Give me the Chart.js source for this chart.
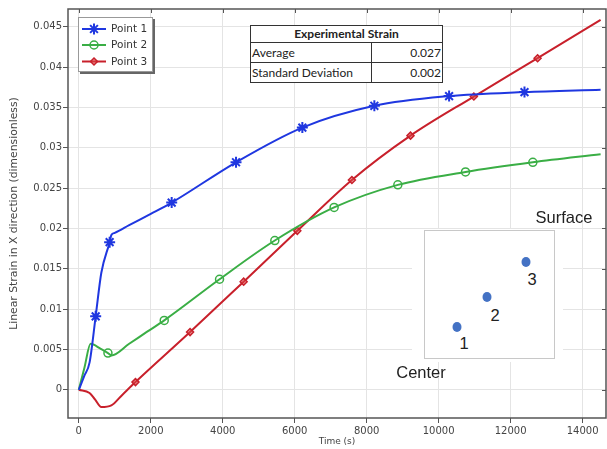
<!DOCTYPE html>
<html>
<head>
<meta charset="utf-8">
<title>Linear strain vs time</title>
<script src="https://cdn.jsdelivr.net/npm/chart.js@4.4.1/dist/chart.umd.min.js"></script>
<style>
    body { margin: 0; background: #fff; }
    #wrap { position: relative; width: 607px; height: 449px; overflow: hidden; }
    #strainChart { position: absolute; left: 0; top: 0; }

    #strainTable {
        position: absolute; left: 250px; top: 25px; width: 193px;
        border-collapse: collapse; background: #fff;
        font-family: Lato, "Open Sans", sans-serif; font-size: 12px; color: #222;
    }
    #strainTable td { border: 1px solid #333; padding: 0 1px; line-height: 1; }
    #strainTable .head { text-align: center; font-weight: bold; height: 16px; }
    #strainTable .row td { height: 19px; }
    #strainTable .num { text-align: right; width: 68px; }

    #probeBack { position: absolute; left: 412px; top: 229px; width: 151px; height: 133px; background: #fff; }
    #probeBox { position: absolute; left: 424px; top: 230px; width: 129px; height: 127px; border: 1px solid #c8c8c8; background: #fff; }
    .probe { position: absolute; width: 9px; height: 10px; border-radius: 50%; background: #4472c4; transform: translate(-50%, -50%); }
    .probeText {
        position: absolute; transform: translate(-50%, -50%); white-space: nowrap;
        font-family: "Liberation Sans", Arial, sans-serif; font-size: 16.5px; color: #222;
    }
</style>
</head>
<body>
<div id="wrap">
    <canvas id="strainChart" width="607" height="449"></canvas>

    <table id="strainTable">
        <tr><td class="head" colspan="2">Experimental Strain</td></tr>
        <tr class="row"><td>Average</td><td class="num">0.027</td></tr>
        <tr class="row"><td>Standard Deviation</td><td class="num">0.002</td></tr>
    </table>

    <div id="probeBack"></div>
    <div id="probeBox"></div>
    <div class="probe" style="left:457px; top:327px;"></div>
    <div class="probe" style="left:487px; top:297px;"></div>
    <div class="probe" style="left:526px; top:262px;"></div>
    <span class="probeText" style="left:464px; top:343px;">1</span>
    <span class="probeText" style="left:495px; top:315px;">2</span>
    <span class="probeText" style="left:532px; top:279px;">3</span>
    <span class="probeText" style="left:564px; top:217px;">Surface</span>
    <span class="probeText" style="left:421px; top:372px;">Center</span>
</div>

<script>
// strain histories at the three probe points (time in s, strain dimensionless)
var p1Time   = [0, 150, 300, 469, 626, 857, 905, 1000, 1400, 2000, 2581, 4369, 6212, 8213, 10290, 12385, 14500];
var p1Strain = [0, 0.0017, 0.0034, 0.0091, 0.0145, 0.0183, 0.0192, 0.01945, 0.0204, 0.0218, 0.0232, 0.0282, 0.0325, 0.0352, 0.0364, 0.0369, 0.0372];
var p1Marks  = [3, 5, 10, 11, 12, 13, 14, 15];

var p2Time   = [0, 160, 327, 600, 810, 905, 1400, 1900, 2374, 3911, 5447, 7095, 8866, 10746, 12617, 14500];
var p2Strain = [0, 0.0028, 0.0057, 0.0051, 0.00455, 0.00425, 0.0057, 0.0072, 0.0086, 0.0137, 0.0185, 0.0226, 0.0254, 0.0270, 0.0282, 0.0292];
var p2Marks  = [4, 8, 9, 10, 11, 12, 13, 14];

var p3Time   = [0, 299, 450, 626, 905, 1200, 1575, 3092, 4581, 6072, 7589, 9218, 10978, 12749, 14500];
var p3Strain = [0, -0.0004, -0.0012, -0.00215, -0.00194, -0.00067, 0.00095, 0.00715, 0.0134, 0.0197, 0.0260, 0.0315, 0.03635, 0.0411, 0.04585];
var p3Marks  = [6, 7, 8, 9, 10, 11, 12, 13];

var seriesNames = ['Point 1', 'Point 2', 'Point 3'];
var timeTicks   = [0, 2000, 4000, 6000, 8000, 10000, 12000, 14000];
var strainTicks = [0, 0.005, 0.01, 0.015, 0.02, 0.025, 0.03, 0.035, 0.04, 0.045];

var blue = '#1f37e0', green = '#3aae45', red = '#c8202b';
var axisColor = '#555', gridColor = '#e4e4e4', textColor = '#444';

function toPoints(xs, ys) {
    return xs.map(function (x, i) { return {x: x, y: ys[i]}; });
}

function markerRadius(marks, r) {
    return function (ctx) { return marks.indexOf(ctx.dataIndex) >= 0 ? r : 0; };
}

function makeSeries(name, xs, ys, marks, color, style, radius, fill) {
    return {
        label: name,
        data: toPoints(xs, ys),
        borderColor: color,
        borderWidth: 2,
        cubicInterpolationMode: 'monotone',
        pointStyle: style,
        markerSize: radius,
        pointRadius: markerRadius(marks, radius),
        pointHoverRadius: 0,
        pointBorderColor: color,
        pointBorderWidth: style === 'star' ? 2 : 1.5,
        pointBackgroundColor: fill
    };
}

var datasets = [
    makeSeries(seriesNames[0], p1Time, p1Strain, p1Marks, blue, 'star', 5.5, blue),
    makeSeries(seriesNames[1], p2Time, p2Strain, p2Marks, green, 'circle', 4, 'rgba(0,0,0,0)'),
    makeSeries(seriesNames[2], p3Time, p3Strain, p3Marks, red, 'rectRot', 3.5, 'rgba(220,70,70,0.55)')
];

// box around the plot with inward ticks on top and right
var framePlugin = {
    id: 'frame',
    afterDatasetsDraw: function (chart) {
        var ctx = chart.ctx, a = chart.chartArea;
        var xs = chart.scales.x, ys = chart.scales.y;
        ctx.save();
        ctx.strokeStyle = axisColor;
        ctx.lineWidth = 1.5;
        ctx.strokeRect(a.left, a.top, a.right - a.left, a.bottom - a.top);
        ctx.lineWidth = 1;
        ctx.beginPath();
        timeTicks.forEach(function (t) {
            var px = Math.round(xs.getPixelForValue(t)) + 0.5;
            ctx.moveTo(px, a.top); ctx.lineTo(px, a.top + 4);
        });
        strainTicks.forEach(function (v) {
            var py = Math.round(ys.getPixelForValue(v)) + 0.5;
            ctx.moveTo(a.right, py); ctx.lineTo(a.right - 4, py);
        });
        ctx.stroke();
        ctx.restore();
    }
};

// legend with line + marker samples, drawn in the top-left corner
var legendPlugin = {
    id: 'lineLegend',
    afterDraw: function (chart) {
        var ctx = chart.ctx;
        var bx = 78, by = 17, bw = 75, bh = 55;
        ctx.save();
        ctx.fillStyle = '#666';
        ctx.fillRect(bx + 2, by + 2, bw, bh);
        ctx.fillStyle = '#fff';
        ctx.fillRect(bx, by, bw, bh);
        ctx.strokeStyle = '#999';
        ctx.lineWidth = 1;
        ctx.strokeRect(bx + 0.5, by + 0.5, bw - 1, bh - 1);

        var rows = [29, 45, 61.5];
        chart.data.datasets.forEach(function (ds, i) {
            var y = rows[i], cx = 94, r = ds.markerSize;
            ctx.strokeStyle = ds.borderColor;
            ctx.lineWidth = 2;
            ctx.beginPath();
            ctx.moveTo(82, y); ctx.lineTo(106, y);
            ctx.stroke();

            ctx.fillStyle = ds.pointBackgroundColor;
            ctx.strokeStyle = ds.pointBorderColor;
            ctx.lineWidth = ds.pointBorderWidth;
            ctx.beginPath();
            if (ds.pointStyle === 'circle') {
                ctx.arc(cx, y, r, 0, Math.PI * 2);
            } else if (ds.pointStyle === 'rectRot') {
                ctx.moveTo(cx, y - r); ctx.lineTo(cx + r, y); ctx.lineTo(cx, y + r); ctx.lineTo(cx - r, y); ctx.closePath();
            } else {
                for (var k = 0; k < 4; k++) {
                    var ang = k * Math.PI / 4;
                    ctx.moveTo(cx - r * Math.cos(ang), y - r * Math.sin(ang));
                    ctx.lineTo(cx + r * Math.cos(ang), y + r * Math.sin(ang));
                }
            }
            ctx.fill();
            ctx.stroke();

            ctx.fillStyle = '#333';
            ctx.font = '10.5px "DejaVu Sans"';
            ctx.textBaseline = 'middle';
            ctx.fillText(ds.label, 111, y + 0.5);
        });
        ctx.restore();
    }
};

var chart = new Chart(document.getElementById('strainChart'), {
    type: 'line',
    data: {datasets: datasets},
    options: {
        responsive: false,
        animation: false,
        events: [],
        layout: {padding: {top: 9, right: 1, left: 0, bottom: 0}},
        plugins: {legend: {display: false}, tooltip: {enabled: false}},
        scales: {
            x: {
                type: 'linear',
                min: -300,
                max: 14650,
                afterBuildTicks: function (s) {
                    s.ticks = timeTicks.map(function (v) { return {value: v}; });
                },
                afterFit: function (s) { s.height = 31; },
                grid: {color: gridColor, tickColor: axisColor, tickLength: 5},
                border: {display: false},
                ticks: {
                    color: textColor, padding: 2, maxRotation: 0, autoSkip: false,
                    font: {family: 'DejaVu Sans', size: 10},
                    callback: function (v) { return String(v); }
                },
                title: {
                    display: true, text: 'Time (s)', color: textColor,
                    font: {family: 'DejaVu Sans', size: 9}, padding: {top: 0, bottom: 2}
                }
            },
            y: {
                type: 'linear',
                min: -0.0035,
                max: 0.0472,
                afterBuildTicks: function (s) {
                    s.ticks = strainTicks.map(function (v) { return {value: v}; });
                },
                afterFit: function (s) { s.width = 68; },
                grid: {color: gridColor, tickColor: axisColor, tickLength: 5},
                border: {display: false},
                ticks: {
                    color: textColor, padding: 1, autoSkip: false,
                    font: {family: 'DejaVu Sans', size: 10},
                    callback: function (v) { return String(+v.toFixed(3)); }
                },
                title: {
                    display: true, text: 'Linear Strain in X direction (dimensionless)', color: textColor,
                    font: {family: 'DejaVu Sans', size: 10.8}, padding: {top: 8, bottom: 0}
                }
            }
        }
    },
    plugins: [framePlugin, legendPlugin]
});
</script>
</body>
</html>
